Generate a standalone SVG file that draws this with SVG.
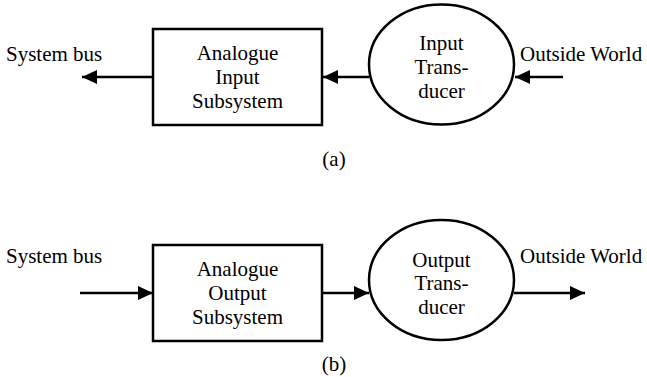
<svg xmlns="http://www.w3.org/2000/svg" width="647" height="377" viewBox="0 0 647 377">
<defs>
<marker id="ah" markerWidth="15" markerHeight="14" refX="15" refY="7" orient="auto" markerUnits="userSpaceOnUse">
<path d="M0,0 L15,7 L0,14 Z" fill="#000"/>
</marker>
</defs>
<style>
text{font-family:"Liberation Serif","Times New Roman",serif;font-size:21px;fill:#000}
.c{text-anchor:middle}
.shape{fill:#fff;stroke:#000;stroke-width:2.5}
.conn line{stroke:#000;stroke-width:2.5;marker-end:url(#ah)}
</style>
<rect width="647" height="377" fill="#fff"/>
<g class="conn">
<line x1="153" y1="77" x2="82" y2="77"/>
<line x1="369" y1="77" x2="323" y2="77"/>
<line x1="563" y1="77" x2="515" y2="77"/>
<line x1="80" y1="293" x2="153" y2="293"/>
<line x1="322" y1="293" x2="369" y2="293"/>
<line x1="514" y1="293" x2="585" y2="293"/>
</g>
<g id="sysbus-a"><text x="6" y="61">System bus</text></g>
<g id="outside-a"><text x="520" y="61">Outside World</text></g>
<g id="ais">
<rect class="shape" x="153" y="29" width="169" height="96"/>
<text class="c" x="237.5" y="60">Analogue</text>
<text class="c" x="237.5" y="84">Input</text>
<text class="c" x="237.5" y="108">Subsystem</text>
</g>
<g id="it">
<ellipse class="shape" cx="441.5" cy="64.5" rx="72.5" ry="60"/>
<text class="c" x="441.5" y="50">Input</text>
<text class="c" x="441.5" y="74">Trans-</text>
<text class="c" x="441.5" y="98">ducer</text>
</g>
<g id="label-a"><text class="c" x="334" y="166">(a)</text></g>
<g id="sysbus-b"><text x="6" y="263">System bus</text></g>
<g id="outside-b"><text x="520" y="263">Outside World</text></g>
<g id="aos">
<rect class="shape" x="153" y="245" width="169" height="96"/>
<text class="c" x="237.5" y="276">Analogue</text>
<text class="c" x="237.5" y="300">Output</text>
<text class="c" x="237.5" y="324">Subsystem</text>
</g>
<g id="ot">
<ellipse class="shape" cx="441.5" cy="280" rx="72.5" ry="60"/>
<text class="c" x="441.5" y="267">Output</text>
<text class="c" x="441.5" y="290">Trans-</text>
<text class="c" x="441.5" y="314">ducer</text>
</g>
<g id="label-b"><text class="c" x="334" y="371">(b)</text></g>
</svg>
